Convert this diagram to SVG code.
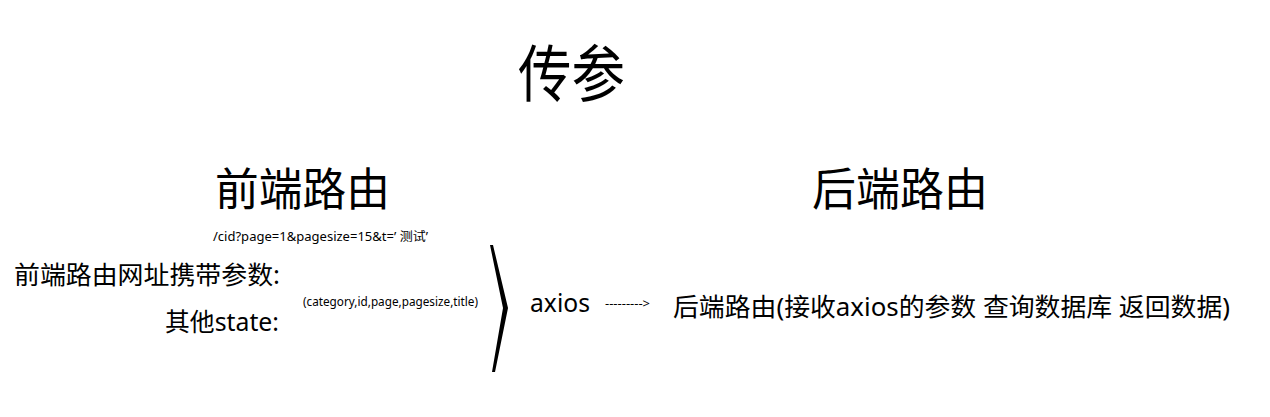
<svg xmlns="http://www.w3.org/2000/svg" width="1270" height="417" viewBox="0 0 1270 417">
<style>
text{font-family:"Noto Sans","Noto Sans CJK SC",sans-serif;fill:#000}
.h{font-size:45px}
.m{font-size:25px}
.s{font-size:12px}
</style>
<rect width="1270" height="417" fill="#fff"/>
<g id="title"><text x="518" y="97" font-size="62" textLength="107" lengthAdjust="spacingAndGlyphs">传参</text></g>
<g id="front-header"><text class="h" x="215" y="206" textLength="175" lengthAdjust="spacingAndGlyphs">前端路由</text></g>
<g id="back-header"><text class="h" x="812" y="206" textLength="176" lengthAdjust="spacingAndGlyphs">后端路由</text></g>
<g id="front-url"><text class="s" x="213" y="241" textLength="215" lengthAdjust="spacingAndGlyphs">/cid?page=1&amp;pagesize=15&amp;t=’ 测试’</text></g>
<g id="front-params"><text class="m" x="14" y="284" textLength="266" lengthAdjust="spacingAndGlyphs">前端路由网址携带参数:</text></g>
<g id="front-state"><text class="m" x="165" y="331" textLength="114" lengthAdjust="spacingAndGlyphs">其他state:</text></g>
<g id="state-fields"><text class="s" x="303" y="306" textLength="175" lengthAdjust="spacingAndGlyphs">(category,id,page,pagesize,title)</text></g>
<g id="bracket"><polygon points="490,245 493,245 508,308 495,372 492,372 503,308" fill="#000"/></g>
<g id="axios"><text class="m" x="530" y="312" textLength="60" lengthAdjust="spacingAndGlyphs">axios</text></g>
<g id="connectors"><text class="s" x="605" y="308" textLength="45" lengthAdjust="spacingAndGlyphs">---------&gt;</text></g>
<g id="backend"><text class="m" x="673" y="316" textLength="557" lengthAdjust="spacingAndGlyphs">后端路由(接收axios的参数 查询数据库 返回数据)</text></g>
</svg>
